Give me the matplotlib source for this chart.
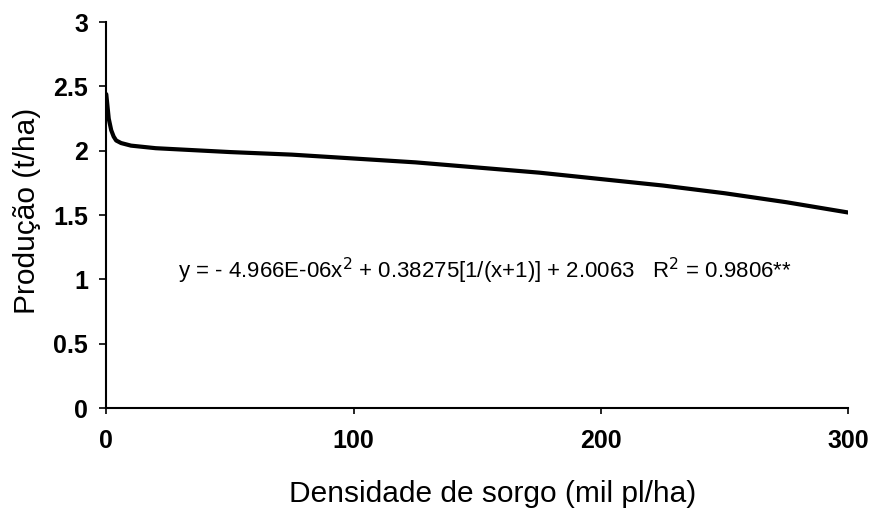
import matplotlib
matplotlib.use("Agg")
import matplotlib.pyplot as plt

# values
densidade = [0, 1, 2, 3, 4, 6, 8, 10, 15, 20, 30, 50, 75, 100, 125, 150, 175, 200, 225, 250, 275, 300]
producao = [2.44, 2.25, 2.16, 2.11, 2.08, 2.06, 2.05, 2.04, 2.03, 2.02, 2.01, 1.99, 1.97, 1.94,
            1.91, 1.87, 1.83, 1.78, 1.73, 1.67, 1.60, 1.52]
xticks = [0, 100, 200, 300]
yticks = [0, 0.5, 1, 1.5, 2, 2.5, 3]
ytick_labels = ["0", "0.5", "1", "1.5", "2", "2.5", "3"]

plt.rcParams['font.family'] = ['Liberation Sans', 'DejaVu Sans']

fig = plt.figure(figsize=(8.71, 5.14), dpi=100)
ax = fig.add_axes([0.122, 0.206, 0.852, 0.751])

ax.plot(densidade, producao, color="black", linewidth=3, solid_capstyle="round")

ax.set_xlim(0, 300)
ax.set_ylim(0, 3)
ax.set_xticks(xticks)
ax.set_xticklabels([str(t) for t in xticks], fontsize=18, fontweight="bold")
ax.set_yticks(yticks)
ax.set_yticklabels(ytick_labels, fontsize=18, fontweight="bold")
ax.tick_params(axis="y", direction="out", length=5, width=1.2, pad=8)
ax.tick_params(axis="x", direction="out", length=4, width=1.2, pad=11)

ax.spines["top"].set_visible(False)
ax.spines["right"].set_visible(False)
ax.spines["left"].set_linewidth(1.5)
ax.spines["bottom"].set_linewidth(1.5)

ax.set_xlabel("Densidade de sorgo (mil pl/ha)", fontsize=21.5)
ax.xaxis.set_label_coords(0.52, -0.185)
ax.set_ylabel("Produção (t/ha)", fontsize=21.5)
ax.yaxis.set_label_coords(-0.088, 0.51)

ax.text(153, 1.07,
        r"y = - 4.966E-06x$^2$ + 0.38275[1/(x+1)] + 2.0063   R$^2$ = 0.9806**",
        fontsize=16, ha="center", va="center",
        family=['Liberation Sans Narrow', 'Liberation Sans', 'DejaVu Sans'])

fig.savefig("out.png", dpi=100)
